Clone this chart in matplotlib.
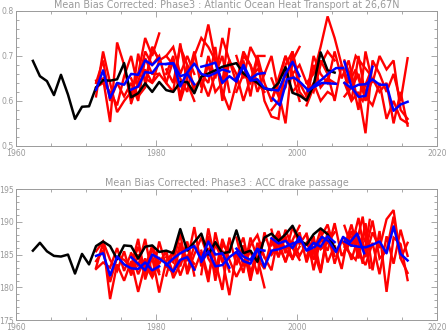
import numpy as np
import matplotlib
matplotlib.use("Agg")
import matplotlib.pyplot as plt
from matplotlib.ticker import MultipleLocator

# ---------------- data ----------------
obs_start = 1962
top_obs = [0.689,0.655,0.644,0.613,0.658,0.614,0.560,0.587,0.588,0.630,
           0.646,0.645,0.648,0.684,0.608,0.617,0.639,0.620,0.642,0.624,
           0.620,0.642,0.642,0.617,0.654,0.661,0.668,0.676,0.680,0.684,
           0.661,0.650,0.640,0.628,0.624,0.640,0.675,0.618,0.612,0.601,
           0.635,0.708,0.668,0.663]
bot_obs = [185.6,186.8,185.5,184.8,184.7,185.0,182.1,185.1,183.5,186.3,
           187.0,186.3,184.3,186.4,186.3,184.4,186.2,186.4,185.4,185.6,
           185.2,188.9,185.6,186.9,188.2,185.0,186.9,185.2,185.4,188.7,
           185.2,185.6,183.9,187.6,188.2,187.1,188.1,189.4,187.2,186.5,
           188.1,189.0,188.1,186.0]

# hindcast start years (x offset of first point)
starts = [1971.4, 1976.4, 1981.4, 1986.4, 1991.4, 1996.4, 2001.4, 2006.8]

top_red = {
 1971.4: [[0.610,0.710,0.640,0.575,0.600,0.620,0.660,0.740,0.700,0.750],
          [0.645,0.650,0.553,0.730,0.680,0.595,0.705,0.640,0.720,0.690],
          [0.640,0.690,0.600,0.640,0.610,0.640,0.600,0.695,0.660,0.660],
          [0.630,0.640,0.620,0.590,0.655,0.700,0.630,0.670,0.640,0.690]],
 1976.4: [[0.595,0.640,0.710,0.680,0.700,0.640,0.620,0.728,0.640,0.600],
          [0.650,0.610,0.630,0.720,0.690,0.700,0.720,0.660,0.700,0.660],
          [0.620,0.660,0.650,0.640,0.660,0.640,0.690,0.610,0.680,0.620]],
 1981.4: [[0.700,0.680,0.650,0.620,0.700,0.740,0.720,0.690,0.640,0.760],
          [0.670,0.640,0.720,0.680,0.630,0.650,0.610,0.660,0.700,0.620],
          [0.660,0.700,0.600,0.650,0.710,0.630,0.680,0.620,0.640,0.690]],
 1986.4: [[0.700,0.770,0.690,0.620,0.580,0.640,0.690,0.610,0.700,0.700],
          [0.660,0.640,0.720,0.600,0.690,0.640,0.710,0.680,0.640,0.620],
          [0.620,0.700,0.650,0.740,0.690,0.660,0.600,0.650,0.670,0.660]],
 1991.4: [[0.700,0.650,0.720,0.690,0.600,0.565,0.560,0.680,0.710,0.640],
          [0.640,0.700,0.680,0.620,0.660,0.700,0.620,0.550,0.690,0.720],
          [0.620,0.660,0.640,0.700,0.640,0.600,0.650,0.700,0.660,0.600]],
 1996.4: [[0.600,0.640,0.700,0.660,0.680,0.640,0.620,0.680,0.710,0.690],
          [0.650,0.610,0.630,0.710,0.620,0.600,0.680,0.630,0.650,0.640],
          [0.580,0.600,0.660,0.620,0.640,0.610,0.640,0.600,0.620,0.610]],
 2001.4: [[0.640,0.660,0.720,0.788,0.740,0.680,0.640,0.700,0.680,0.660],
          [0.610,0.700,0.660,0.640,0.710,0.650,0.690,0.620,0.600,0.650],
          [0.590,0.630,0.690,0.660,0.600,0.680,0.640,0.670,0.620,0.660]],
 2006.8: [[0.690,0.650,0.580,0.710,0.640,0.700,0.670,0.690,0.580,0.560],
          [0.640,0.600,0.620,0.528,0.690,0.660,0.620,0.660,0.600,0.695],
          [0.610,0.630,0.660,0.600,0.650,0.620,0.640,0.550,0.620,0.545],
          [0.660,0.600,0.700,0.610,0.590,0.640,0.560,0.600,0.560,0.550]],
}
top_blue = [
 (1971.4, [0.625,0.668,0.606,0.640,0.636,0.660,0.658,0.690,0.680,0.695]),
 (1976.4, [0.625,0.632,0.664,0.662,0.682,0.682,0.684,0.655,0.660,0.637]),
 (1981.4, [0.682,0.684,0.632,0.663,0.683,0.660,0.655,0.662,0.670,0.665]),
 (1986.4, [0.676,0.680,0.685,0.640,0.655,0.643,0.680,0.649,0.660,0.662]),
 (1991.4, [0.650,0.676,0.645,0.648,0.628,0.625,0.623,0.660,0.687,0.655]),
 (1996.6, [0.605,0.590,0.648,0.652,0.640,0.624,0.632,0.640,0.639,0.638]),
 (2001.6, [0.622,0.636,0.648,0.662,0.673,0.673]),
 (2006.8, [0.687,0.631,0.609,0.611,0.676]),
 (2006.8, [0.640,0.628,0.636,0.637,0.648,0.636,0.636,0.578,0.592,0.598]),
]

bot_red = {
 1971.4: [[183.0,186.8,178.2,183.5,181.0,184.0,179.3,183.5,181.5,183.8],
          [185.5,187.0,184.2,182.5,185.5,181.8,185.0,182.0,186.0,182.4],
          [182.8,183.8,183.0,186.0,182.5,185.2,183.2,187.4,181.8,184.5],
          [184.0,185.6,180.8,184.6,184.2,183.0,186.2,182.8,184.6,182.0]],
 1976.4: [[183.2,187.4,181.2,184.6,179.2,184.0,185.4,181.8,184.8,183.6],
          [185.2,182.0,184.4,181.6,187.0,183.2,182.2,186.2,182.6,186.4],
          [182.6,184.8,183.0,186.4,183.6,185.6,181.4,183.6,187.0,181.8]],
 1981.4: [[185.0,182.2,186.8,184.0,189.2,183.2,187.8,181.0,186.5,185.4],
          [181.8,185.6,183.2,186.6,182.6,185.4,180.8,188.4,183.8,187.2],
          [184.6,183.8,188.2,182.0,185.0,187.6,184.4,182.6,185.6,182.4]],
 1986.4: [[182.0,189.0,184.0,179.6,187.6,183.4,186.0,181.0,185.8,187.2],
          [185.6,181.6,186.6,184.2,178.8,185.2,187.6,182.4,184.4,180.0],
          [183.4,186.0,182.2,187.4,184.2,181.6,183.8,186.4,188.0,184.6]],
 1991.4: [[187.6,183.2,185.6,182.0,188.4,185.0,186.4,184.0,187.2,189.4],
          [183.8,186.4,181.4,186.8,184.6,182.6,188.0,185.8,184.4,186.2],
          [185.2,182.2,187.6,184.4,182.8,187.4,184.6,188.8,186.0,184.2]],
 1996.4: [[186.4,188.6,185.2,189.2,186.6,188.2,184.2,187.6,189.6,185.6],
          [188.8,184.6,187.8,184.2,188.4,183.8,187.0,185.8,186.8,188.4],
          [185.0,187.2,183.8,187.0,184.8,186.8,185.6,182.2,188.2,184.8]],
 2001.4: [[188.2,182.6,187.4,185.6,189.8,184.8,186.4,188.6,183.6,190.3],
          [184.6,187.8,182.4,188.6,183.6,187.2,185.4,184.2,187.8,185.6],
          [186.6,185.2,188.8,183.8,186.4,182.8,188.4,186.2,190.8,183.0]],
 2006.8: [[189.4,186.2,190.6,184.6,188.4,186.0,190.4,191.8,184.4,182.2],
          [185.6,188.6,184.4,189.8,182.6,188.6,179.3,187.6,186.6,181.1],
          [187.4,184.2,187.8,185.6,190.2,184.4,185.6,190.8,184.4,186.8],
          [186.2,189.6,185.2,183.4,186.8,182.0,187.8,183.6,188.8,184.8]],
}
bot_blue = [
 (1971.4, [184.8,185.2,181.8,184.7,183.5,182.9,182.8,183.8,182.6,183.2]),
 (1976.4, [184.6,183.6,182.6,185.0,184.4,183.6,182.4,184.2,184.6,182.7]),
 (1981.4, [183.4,184.4,185.2,185.8,186.3,184.2,187.0,185.0,185.2,183.0]),
 (1986.4, [183.9,185.5,183.2,183.4,184.6,185.4,184.0,183.6,185.8,185.6]),
 (1991.4, [185.9,184.7,184.2,185.9,183.1,185.6,185.8,186.2,186.7,187.0]),
 (1996.4, [187.5,186.7,187.1,186.0,187.7,185.6,186.8,186.2,187.8,186.9]),
 (2001.6, [185.7,186.2,187.7,187.0,185.4,187.7,186.9,188.2,185.2]),
 (2006.8, [187.0,186.4,186.2,186.1,186.5,187.0,185.2,189.3,185.1,184.1]),
]

titles = ["Mean Bias Corrected: Phase3 : Atlantic Ocean Heat Transport at 26,67N",
          "Mean Bias Corrected: Phase3 : ACC drake passage"]
ylims = [(0.5, 0.8), (175, 195)]
ymajor = [0.1, 5]
yminor = [0.02, 1]
yfmt = ["{:.1f}", "{:.0f}"]

# ---------------- drawing ----------------
gray = "#9a9a9a"
fig = plt.figure(figsize=(4.46, 3.33), dpi=100)
positions = [[0.036, 0.562, 0.944, 0.405], [0.036, 0.039, 0.944, 0.393]]

for i, (obs, reds, blues) in enumerate([(top_obs, top_red, top_blue),
                                        (bot_obs, bot_red, bot_blue)]):
    ax = fig.add_axes(positions[i])
    for s in starts:
        for m in reds[s]:
            ax.plot(s + np.arange(len(m)), m, color="#ff0000", lw=1.7,
                    solid_joinstyle="miter", zorder=2)
    ox = obs_start + 0.4 + np.arange(len(obs))
    ax.plot(ox, obs, color="black", lw=1.8, zorder=3)
    for s, b in blues:
        ax.plot(s + np.arange(len(b)), b, color="#0000ff", lw=1.8, zorder=4)
    ax.set_xlim(1960, 2020)
    ax.set_ylim(*ylims[i])
    ax.set_xticks([1960, 1980, 2000, 2020])
    ax.xaxis.set_minor_locator(MultipleLocator(5))
    ax.yaxis.set_major_locator(MultipleLocator(ymajor[i]))
    ax.yaxis.set_minor_locator(MultipleLocator(yminor[i]))
    ax.set_yticklabels([yfmt[i].format(v) for v in ax.get_yticks()])
    ax.tick_params(which="both", direction="in", top=True, right=True,
                   colors=gray, labelcolor=gray, labelsize=5.6, width=0.6)
    ax.tick_params(which="major", length=4)
    ax.tick_params(which="minor", length=2)
    ax.tick_params(axis="y", pad=1.5)
    ax.tick_params(axis="x", pad=2.5)
    for sp in ax.spines.values():
        sp.set_color(gray)
        sp.set_linewidth(0.7)
    ax.set_title(titles[i], color=gray, fontsize=6.9, pad=2)

fig.savefig("out.png", dpi=100)
